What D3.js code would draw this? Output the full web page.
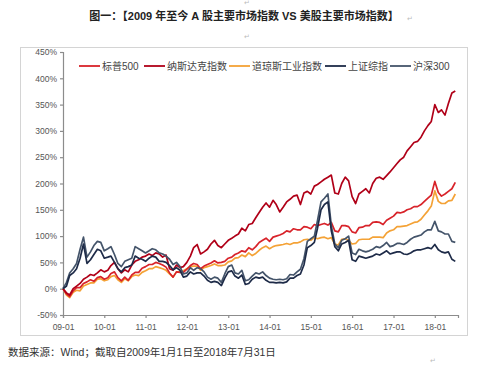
<!DOCTYPE html>
<html>
<head>
<meta charset="utf-8">
<script src="https://cdn.jsdelivr.net/npm/d3@7"></script>
<style>
  body { margin: 0; background: #fff; }
  svg { font-family: "Liberation Sans", "Noto Sans CJK SC", sans-serif; }
</style>
</head>
<body>
<svg id="chart" width="500" height="378"></svg>
<script>
// monthly levels (% change since 2009-01-01), Jan 2009 .. Jul 2018
var startMonth = "2009-01";

var sp500 = [
  0, -10, -15, -4, 2, 2, 10, 13, 17, 14, 21, 23,
  18, 21, 29, 32, 21, 15, 22, 16, 26, 31, 31, 39,
  42, 46, 46, 50, 48, 45, 41, 30, 22, 32, 31, 31,
  37, 44, 48, 46, 38, 43, 46, 49, 53, 49, 50, 52,
  58, 60, 65, 68, 72, 70, 78, 74, 80, 88, 92, 96,
  90, 98, 100, 102, 105, 110, 108, 114, 112, 112, 118, 117,
  114, 122, 120, 122, 124, 121, 126, 110, 108, 120, 120, 118,
  108, 106, 116, 117, 120, 120, 126, 127, 126, 122, 130, 134,
  138, 145, 144, 146, 150, 152, 156, 156, 160, 166, 172, 178,
  204, 183, 176, 180, 185, 190, 202
];

var nasdaq = [
  0, -8, -12, 0, 5, 10, 18, 22, 27, 25, 30, 36,
  32, 35, 44, 50, 38, 30, 36, 32, 45, 52, 55, 60,
  62, 66, 63, 68, 66, 60, 64, 38, 35, 45, 40, 42,
  50, 62, 78, 84, 66, 70, 75, 85, 92, 82, 78, 85,
  92, 96, 100, 104, 115, 110, 122, 124, 135, 145, 155, 163,
  155, 168, 160, 146, 155, 165, 170, 176, 178, 160, 182, 185,
  180, 195, 198, 203, 208, 212, 216, 182, 180, 200, 212, 205,
  175, 162, 180, 185, 190, 182, 200, 210, 212, 208, 215, 222,
  230, 238, 245, 250, 262, 270, 278, 280, 288, 300, 310, 318,
  350, 335, 340, 330, 352, 372, 376
];

var dow = [
  0, -12, -17, -7, -3, -4, 5, 8, 11, 11, 18, 19,
  15, 17, 23, 25, 17, 12, 19, 15, 23, 26, 25, 31,
  34, 38, 38, 42, 40, 38, 35, 28, 22, 32, 32, 34,
  38, 42, 43, 43, 35, 40, 42, 44, 47, 44, 44, 45,
  51, 53, 58, 59, 64, 61, 68, 63, 67, 73, 78, 81,
  76, 80, 82, 83, 84, 86, 84, 87, 87, 89, 93, 94,
  92, 97, 95, 97, 98, 95, 97, 85, 83, 94, 95, 92,
  85, 86, 93, 94, 94, 94, 98, 98, 98, 97, 106, 110,
  112, 118, 118, 119, 120, 123, 126, 127, 132, 140, 148, 157,
  186, 166, 162, 162, 167, 168, 180
];

var sse = [
  0, 5, 25, 30, 38, 58, 85, 48, 55, 65, 75, 72,
  58, 60, 62, 50, 38, 32, 40, 42, 45, 62, 58, 56,
  52, 58, 62, 60, 52, 52, 50, 44, 36, 40, 35, 22,
  24, 32, 28, 30, 30, 24, 16, 12, 14, 12, 6, 20,
  32, 34, 24, 20, 26, 8, 10, 18, 22, 20, 22, 16,
  12, 12, 11, 12, 11, 13, 20, 20, 25, 28, 45, 78,
  82, 88, 115, 150, 160, 165, 110, 80, 72, 85, 88, 92,
  55, 52, 62, 60, 58, 60, 62, 66, 64, 68, 72, 66,
  68, 70, 70, 66, 65, 68, 72, 74, 74, 76, 78, 76,
  84, 74, 70, 68, 70, 56, 52
];

var csi300 = [
  0, 12, 30, 38, 48, 75, 98, 60, 70, 82, 90, 88,
  72, 76, 80, 65, 48, 42, 52, 55, 58, 80, 76, 72,
  68, 72, 76, 74, 68, 66, 62, 56, 46, 50, 42, 28,
  30, 40, 35, 40, 38, 32, 22, 18, 22, 20, 12, 28,
  42, 45, 30, 28, 35, 15, 17, 24, 30, 28, 32, 25,
  20, 18, 17, 18, 17, 19, 27, 26, 32, 37, 57, 90,
  95, 100, 130, 165, 172, 180, 120, 85, 78, 92, 95, 100,
  68, 65, 75, 72, 70, 72, 75, 80, 78, 82, 88, 80,
  82, 86, 86, 84, 88, 94, 98, 100, 102, 108, 112, 112,
  128, 110, 108, 104, 104, 90, 88
];

var seriesNames = ["标普500", "纳斯达克指数", "道琼斯工业指数", "上证综指", "沪深300"];
var seriesData = [sp500, nasdaq, dow, sse, csi300];
var seriesColors = ["#d8232a", "#b00018", "#f4a236", "#1e2b48", "#44546a"];
var yTicks = [-50, 0, 50, 100, 150, 200, 250, 300, 350, 400, 450];

var svg = d3.select("#chart");
var margin = { top: 52, right: 42, bottom: 63, left: 63 };
var width = 500 - margin.left - margin.right,
    height = 378 - margin.top - margin.bottom;

var parseMonth = d3.timeParse("%Y-%m");
var t0 = parseMonth(startMonth);
var dates = sp500.map(function (d, i) { return d3.timeMonth.offset(t0, i); });

var x = d3.scaleTime()
  .domain([t0, new Date(2018, 6, 25)])
  .range([0, width]);
var y = d3.scaleLinear().domain([-50, 450]).range([height, 0]);

// title
svg.append("text")
  .attr("x", 244).attr("y", 20)
  .attr("text-anchor", "middle")
  .attr("font-size", 11).attr("font-weight", "bold")
  .attr("fill", "#222")
  .text("图一：【2009 年至今 A 股主要市场指数 VS 美股主要市场指数】");
svg.append("text").attr("x", 407).attr("y", 21).attr("font-size", 7).attr("fill", "#bbb").text("↵");
svg.append("text").attr("x", 244).attr("y", 5).attr("font-size", 7).attr("fill", "#bbb").text("↵");
svg.append("text").attr("x", 244).attr("y", 39).attr("font-size", 7).attr("fill", "#bbb").text("↵");

// frame around the chart
svg.append("rect")
  .attr("x", 20.5).attr("y", 47.5)
  .attr("width", 447).attr("height", 288)
  .attr("fill", "none").attr("stroke", "#d4d4d4");

var g = svg.append("g")
  .attr("transform", "translate(" + margin.left + "," + margin.top + ")");

var xAxis = g.append("g")
  .attr("transform", "translate(0," + height + ")")
  .call(d3.axisBottom(x).ticks(d3.timeYear.every(1)).tickFormat(d3.timeFormat("%y-%m")).tickSize(3));

var yAxis = g.append("g")
  .call(d3.axisLeft(y).tickValues(yTicks).tickFormat(function (d) { return d + "%"; }).tickSize(3));

[xAxis, yAxis].forEach(function (a) {
  a.selectAll("path, line").attr("stroke", "#8c8c8c").attr("stroke-width", 1.2);
  a.selectAll("text").attr("fill", "#555").attr("font-size", 8.5);
});
xAxis.selectAll("text").attr("dy", "1.1em");

var line = d3.line()
  .x(function (d, i) { return x(dates[i]); })
  .y(function (d) { return y(d); });

// draw US first, A-share lines on top
[2, 0, 1, 4, 3].forEach(function (k) {
  g.append("path")
    .datum(seriesData[k])
    .attr("fill", "none")
    .attr("stroke", seriesColors[k])
    .attr("stroke-width", 1.7)
    .attr("stroke-linejoin", "round")
    .attr("d", line);
});

// legend
var legendX = [79, 144, 229, 325, 390];
var legend = svg.append("g").attr("transform", "translate(0,66)");
seriesNames.forEach(function (name, i) {
  legend.append("line")
    .attr("x1", legendX[i]).attr("x2", legendX[i] + 21)
    .attr("stroke", seriesColors[i]).attr("stroke-width", 1.8);
  legend.append("text")
    .attr("x", legendX[i] + 23).attr("y", 3.5)
    .attr("font-size", 10).attr("fill", "#444")
    .text(name);
});

// source note
svg.append("text")
  .attr("x", 8).attr("y", 356)
  .attr("font-size", 10.5).attr("fill", "#333")
  .text("数据来源：Wind；截取自2009年1月1日至2018年7月31日");
svg.append("text").attr("x", 430).attr("y", 363).attr("font-size", 7).attr("fill", "#bbb").text("↵");
</script>
</body>
</html>
